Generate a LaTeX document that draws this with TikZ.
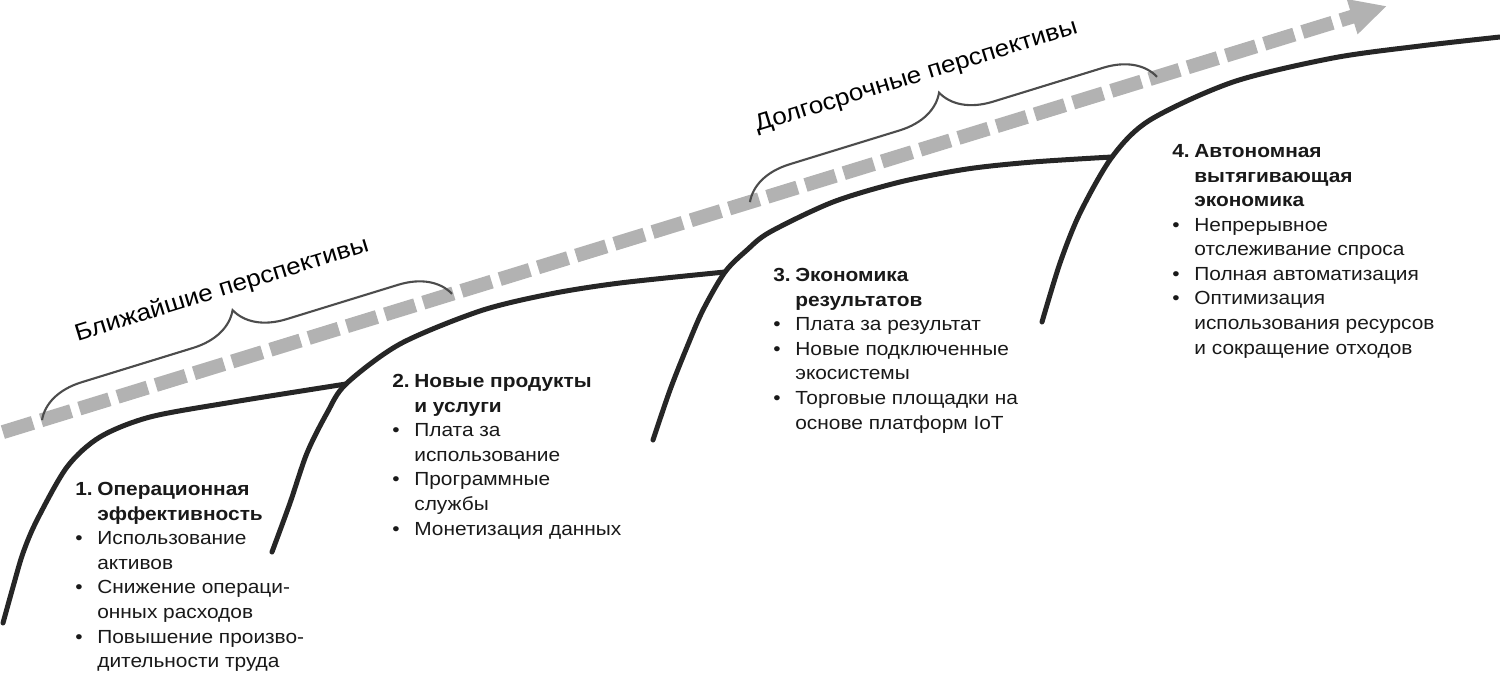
\documentclass[tikz,border=0pt]{standalone}
\usepackage{fontspec}
\setmainfont[FakeStretch=1.1]{Liberation Sans}
\usetikzlibrary{arrows.meta,decorations.pathreplacing}

\tikzset{
  wave/.style={line width=0.1cm, draw=black!85, line cap=round},
  trend/.style={line width=0.28cm, draw=black!30, dash pattern=on 0.63cm off 0.17cm, dash phase=0.74cm,
    -{Triangle[length=0.73cm,width=0.68cm]}},
  span/.style={decorate, decoration={brace, amplitude=0.98cm}, line width=1.2pt, draw=black!70},
  spanlabel/.style={sloped, above=1.18cm, inner sep=0pt, font=\fontsize{13.5}{15}\selectfont},
  stage/.style={anchor=north west, align=left, inner sep=0pt, text=black!90,
    font=\fontsize{10.8}{14}\selectfont},
}
\newcommand{\stnum}[1]{\makebox[0.44cm][l]{#1}}
\newcommand{\stbul}{\makebox[0.44cm][l]{\textbullet}}
\newcommand{\stind}{\hspace*{0.44cm}}

\begin{document}
\begin{tikzpicture}[x=0.02cm, y=-0.02cm]
    \useasboundingbox (0,0) rectangle (1500,678);

    % пунктирная стрелка и точки для скобок
    \draw[trend] (0,433) -- (1387,6)
        coordinate[pos=0.0303] (b1a) coordinate[pos=0.3259] (b1b)
        coordinate[pos=0.5407] (b2a) coordinate[pos=0.8342] (b2b);

    % фигурные скобки с подписями
    \draw[span] (b1a) -- node[spanlabel, pos=0.49] {Ближайшие перспективы} (b1b);
    \draw[span] (b2a) -- node[spanlabel, pos=0.46] {Долгосрочные перспективы} (b2b);

    % точки стыка кривых
    \coordinate (j12) at (346,384);
    \coordinate (j23) at (725,272);
    \coordinate (j34) at (1112,157);

    % четыре кривые роста
    \draw[wave] plot[smooth] coordinates {(3,623) (13,587) (23,553) (37,520) (67,467) (100,437) (150,417) (233,402) (j12)};
    \draw[wave] plot[smooth] coordinates {(272,552) (290,503) (307,453) (327,413) (j12) (400,344) (480,311) (550,294) (620,283) (j23)};
    \draw[wave] plot[smooth] coordinates {(653,440) (670,390) (687,347) (703,310) (j23) (747,250) (770,232) (833,202) (900,182) (967,169) (1033,162) (j34)};
    \draw[wave] plot[smooth] coordinates {(1042,322) (1060,263) (1080,213) (j34) (1150,120) (1233,82) (1333,58) (1420,46) (1500,37)};

    % этапы
    \node[stage] (st1) at (75,482) {\stnum{\textbf{1.}}\textbf{Операционная}\\
        \stind\textbf{эффективность}\\
        \stbul Использование\\
        \stind активов\\
        \stbul Снижение операци-\\
        \stind онных расходов\\
        \stbul Повышение произво-\\
        \stind дительности труда};
    \node[stage] (st2) at (392,374) {\stnum{\textbf{2.}}\textbf{Новые продукты}\\
        \stind\textbf{и услуги}\\
        \stbul Плата за\\
        \stind использование\\
        \stbul Программные\\
        \stind службы\\
        \stbul Монетизация данных};
    \node[stage] (st3) at (773,268) {\stnum{\textbf{3.}}\textbf{Экономика}\\
        \stind\textbf{результатов}\\
        \stbul Плата за результат\\
        \stbul Новые подключенные\\
        \stind экосистемы\\
        \stbul Торговые площадки на\\
        \stind основе платформ IoT};
    \node[stage] (st4) at (1172,144) {\stnum{\textbf{4.}}\textbf{Автономная}\\
        \stind\textbf{вытягивающая}\\
        \stind\textbf{экономика}\\
        \stbul Непрерывное\\
        \stind отслеживание спроса\\
        \stbul Полная автоматизация\\
        \stbul Оптимизация\\
        \stind использования ресурсов\\
        \stind и сокращение отходов};

\end{tikzpicture}
\end{document}
